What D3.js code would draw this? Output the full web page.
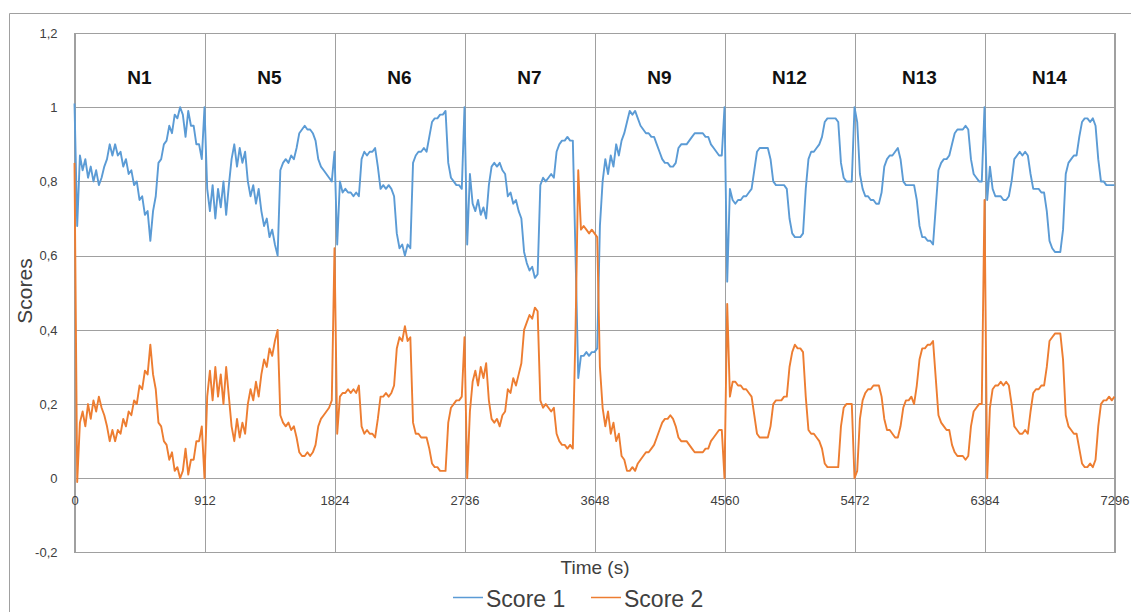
<!DOCTYPE html>
<html>
<head>
<meta charset="utf-8">
<script src="https://cdn.jsdelivr.net/npm/d3@7/dist/d3.min.js"></script>
<style>
  html, body { margin: 0; padding: 0; background: #ffffff; }
  svg { display: block; font-family: "Liberation Sans", Arial, sans-serif; }
</style>
</head>
<body>
<svg id="chart" width="1131" height="612"></svg>
<script>
// Recording sections, each 912 s long, sampled every 19 s
const sections = ["N1", "N5", "N6", "N7", "N9", "N12", "N13", "N14"];
const sectionLength = 912;
const sampleStep = 19;
const timeTicks = [0, 912, 1824, 2736, 3648, 4560, 5472, 6384, 7296];
const scoreTicks = [-0.2, 0, 0.2, 0.4, 0.6, 0.8, 1, 1.2];
const scoreGrid = [0, 0.2, 0.4, 0.6, 0.8, 1];

// Score 1 per section
const score1_N1 = [1.01,0.68,0.87,0.83,0.86,0.81,0.84,0.80,0.83,0.79,0.81,0.84,0.86,0.90,0.87,0.90,0.87,0.88,0.84,0.86,0.82,0.83,0.79,0.80,0.75,0.76,0.71,0.72,0.64,0.72,0.76,0.85,0.86,0.90,0.91,0.95,0.93,0.98,0.97,1.00,0.98,0.92,0.99,0.95,0.95,0.90,0.90,0.86];
const score1_N5 = [1.00,0.78,0.72,0.79,0.70,0.78,0.73,0.80,0.71,0.79,0.86,0.90,0.84,0.89,0.85,0.88,0.80,0.76,0.79,0.74,0.78,0.72,0.68,0.70,0.65,0.67,0.63,0.60,0.83,0.85,0.86,0.85,0.87,0.86,0.89,0.93,0.94,0.95,0.94,0.94,0.93,0.91,0.86,0.84,0.83,0.82,0.81,0.80];
const score1_N6 = [0.88,0.63,0.80,0.77,0.78,0.77,0.77,0.76,0.77,0.76,0.86,0.88,0.87,0.88,0.88,0.89,0.84,0.78,0.79,0.78,0.79,0.78,0.76,0.66,0.62,0.63,0.60,0.63,0.62,0.85,0.87,0.88,0.88,0.89,0.88,0.92,0.96,0.97,0.97,0.98,0.98,0.99,0.85,0.81,0.80,0.79,0.79,0.78];
const score1_N7 = [1.00,0.63,0.82,0.74,0.72,0.75,0.71,0.73,0.70,0.79,0.84,0.85,0.84,0.85,0.83,0.82,0.76,0.77,0.74,0.75,0.72,0.70,0.61,0.58,0.56,0.57,0.54,0.55,0.79,0.81,0.80,0.81,0.82,0.81,0.88,0.90,0.91,0.91,0.92,0.91,0.91,0.60,0.27,0.33,0.33,0.34,0.33,0.34];
const score1_N9 = [0.34,0.35,0.68,0.80,0.86,0.82,0.87,0.84,0.90,0.87,0.91,0.93,0.96,0.99,0.98,0.99,0.97,0.95,0.94,0.93,0.93,0.92,0.92,0.90,0.88,0.86,0.85,0.85,0.84,0.84,0.85,0.89,0.90,0.90,0.90,0.91,0.92,0.93,0.93,0.93,0.93,0.92,0.92,0.90,0.89,0.88,0.87,0.87];
const score1_N12 = [1.00,0.53,0.78,0.75,0.74,0.75,0.75,0.76,0.76,0.77,0.78,0.83,0.88,0.89,0.89,0.89,0.89,0.86,0.80,0.79,0.79,0.79,0.79,0.78,0.70,0.66,0.65,0.65,0.65,0.66,0.78,0.86,0.88,0.88,0.89,0.90,0.92,0.96,0.97,0.97,0.97,0.97,0.96,0.85,0.81,0.80,0.80,0.80];
const score1_N13 = [1.00,0.96,0.82,0.78,0.76,0.76,0.75,0.75,0.74,0.74,0.77,0.84,0.86,0.87,0.87,0.88,0.89,0.86,0.80,0.79,0.79,0.79,0.79,0.75,0.68,0.65,0.65,0.64,0.64,0.63,0.73,0.83,0.85,0.86,0.86,0.87,0.90,0.93,0.94,0.94,0.94,0.95,0.94,0.86,0.82,0.81,0.80,0.80];
const score1_N14 = [1.00,0.75,0.84,0.78,0.76,0.76,0.76,0.75,0.75,0.76,0.80,0.86,0.87,0.88,0.87,0.88,0.87,0.82,0.78,0.78,0.78,0.77,0.77,0.72,0.64,0.62,0.61,0.61,0.61,0.67,0.82,0.85,0.86,0.87,0.87,0.92,0.96,0.97,0.97,0.96,0.97,0.95,0.86,0.80,0.80,0.79,0.79,0.79];
const score1_end = 0.79;

// Score 2 per section
const score2_N1 = [0.85,-0.01,0.15,0.18,0.14,0.20,0.16,0.21,0.18,0.22,0.19,0.17,0.14,0.10,0.13,0.10,0.13,0.12,0.16,0.14,0.18,0.17,0.21,0.20,0.25,0.24,0.29,0.28,0.36,0.28,0.24,0.15,0.14,0.10,0.09,0.05,0.07,0.02,0.03,0.00,0.02,0.08,0.01,0.05,0.05,0.10,0.10,0.14];
const score2_N5 = [0.00,0.22,0.29,0.21,0.30,0.22,0.28,0.20,0.30,0.22,0.14,0.10,0.16,0.11,0.15,0.12,0.20,0.24,0.21,0.26,0.22,0.28,0.32,0.30,0.35,0.33,0.37,0.40,0.17,0.15,0.14,0.15,0.13,0.14,0.11,0.07,0.06,0.06,0.07,0.06,0.07,0.09,0.14,0.16,0.17,0.18,0.19,0.21];
const score2_N6 = [0.62,0.12,0.22,0.23,0.23,0.24,0.23,0.24,0.23,0.25,0.14,0.12,0.13,0.12,0.12,0.11,0.16,0.22,0.22,0.23,0.22,0.23,0.25,0.35,0.38,0.37,0.41,0.37,0.38,0.15,0.12,0.12,0.11,0.11,0.11,0.08,0.04,0.03,0.03,0.02,0.02,0.02,0.15,0.19,0.20,0.21,0.21,0.22];
const score2_N7 = [0.38,0.00,0.18,0.26,0.29,0.25,0.30,0.27,0.31,0.21,0.16,0.15,0.16,0.14,0.17,0.18,0.24,0.23,0.27,0.25,0.28,0.31,0.40,0.42,0.44,0.43,0.46,0.45,0.21,0.19,0.20,0.19,0.18,0.19,0.12,0.10,0.09,0.09,0.08,0.09,0.08,0.40,0.83,0.67,0.68,0.67,0.66,0.67];
const score2_N9 = [0.66,0.65,0.30,0.19,0.14,0.18,0.12,0.15,0.10,0.12,0.06,0.05,0.02,0.02,0.03,0.02,0.04,0.05,0.06,0.07,0.07,0.08,0.09,0.11,0.13,0.15,0.16,0.16,0.17,0.16,0.14,0.11,0.10,0.10,0.10,0.09,0.08,0.07,0.07,0.07,0.07,0.08,0.08,0.10,0.11,0.12,0.13,0.13];
const score2_N12 = [0.00,0.47,0.22,0.26,0.26,0.25,0.25,0.24,0.24,0.23,0.22,0.17,0.12,0.11,0.11,0.11,0.11,0.14,0.20,0.21,0.21,0.21,0.22,0.22,0.30,0.34,0.36,0.35,0.35,0.34,0.22,0.13,0.12,0.12,0.11,0.10,0.08,0.04,0.03,0.03,0.03,0.03,0.03,0.14,0.19,0.20,0.20,0.20];
const score2_N13 = [0.00,0.02,0.16,0.21,0.23,0.24,0.24,0.25,0.25,0.25,0.22,0.16,0.13,0.13,0.12,0.11,0.11,0.14,0.19,0.21,0.21,0.22,0.20,0.25,0.32,0.35,0.35,0.36,0.36,0.37,0.27,0.17,0.15,0.14,0.13,0.13,0.09,0.07,0.06,0.06,0.06,0.05,0.06,0.14,0.18,0.19,0.20,0.20];
const score2_N14 = [0.75,0.00,0.19,0.24,0.25,0.25,0.26,0.25,0.26,0.25,0.20,0.14,0.13,0.12,0.12,0.13,0.12,0.18,0.23,0.24,0.24,0.25,0.25,0.30,0.37,0.38,0.39,0.39,0.39,0.32,0.17,0.14,0.13,0.12,0.12,0.08,0.04,0.03,0.03,0.04,0.03,0.05,0.14,0.20,0.21,0.21,0.22,0.21];
const score2_end = 0.22;

const score1Sections = [score1_N1, score1_N5, score1_N6, score1_N7, score1_N9, score1_N12, score1_N13, score1_N14];
const score2Sections = [score2_N1, score2_N5, score2_N6, score2_N7, score2_N9, score2_N12, score2_N13, score2_N14];

const seriesNames = ["Score 1", "Score 2"];
const seriesColors = ["#5b9bd5", "#ed7d31"];

// Flatten the section arrays into one time series
function toSeries(sectionArrays, endValue) {
  const pts = [];
  sectionArrays.forEach((vals, k) => {
    vals.forEach((v, i) => pts.push({ t: k * sectionLength + i * sampleStep, v: v }));
  });
  pts.push({ t: sections.length * sectionLength, v: endValue });
  return pts;
}
const series = [toSeries(score1Sections, score1_end), toSeries(score2Sections, score2_end)];

const svg = d3.select("#chart");
const plotLeft = 74.5, plotRight = 1114.5, plotTop = 33, plotBottom = 552.5;
const gridColor = "#a0a0a0";
const textColor = "#404040";

const x = d3.scaleLinear().domain([0, 7296]).range([plotLeft, plotRight]);
const y = d3.scaleLinear().domain([-0.2, 1.2]).range([plotBottom, plotTop]);

const locale = d3.formatLocale({ decimal: ",", thousands: ".", grouping: [3], currency: ["", ""], minus: "-" });
const fmt = locale.format("~g");

// Outer chart frame (top and left edges)
svg.append("line").attr("x1", 9.5).attr("x2", 1131).attr("y1", 13.5).attr("y2", 13.5)
  .attr("stroke", gridColor).attr("stroke-width", 1);
svg.append("line").attr("x1", 9.5).attr("x2", 9.5).attr("y1", 13.5).attr("y2", 612)
  .attr("stroke", gridColor).attr("stroke-width", 1);

// Horizontal gridlines
svg.append("g")
  .attr("transform", `translate(${plotLeft},0)`)
  .call(d3.axisLeft(y).tickValues(scoreGrid).tickSize(-(plotRight - plotLeft)).tickFormat(""))
  .call(g => g.select(".domain").remove())
  .call(g => g.selectAll("line").attr("stroke", gridColor).attr("shape-rendering", "crispEdges"));

// Vertical gridlines at section boundaries
svg.append("g")
  .attr("transform", `translate(0,${plotBottom})`)
  .call(d3.axisBottom(x).tickValues(timeTicks).tickSize(-(plotBottom - plotTop)).tickFormat(""))
  .call(g => g.select(".domain").remove())
  .call(g => g.selectAll("line").attr("stroke", gridColor).attr("shape-rendering", "crispEdges"));

// Plot frame
svg.append("rect")
  .attr("x", plotLeft).attr("y", plotTop).attr("width", plotRight - plotLeft).attr("height", plotBottom - plotTop)
  .attr("fill", "none").attr("stroke", gridColor).attr("shape-rendering", "crispEdges");

// Section names
svg.append("g").selectAll("text")
  .data(sections)
  .join("text")
  .attr("x", (d, k) => x(k * sectionLength + sectionLength / 2))
  .attr("y", 83.5)
  .attr("text-anchor", "middle")
  .attr("font-weight", "bold")
  .attr("font-size", 19)
  .attr("fill", "#111")
  .text(d => d);

// Y tick labels
svg.append("g")
  .attr("transform", `translate(${plotLeft},0)`)
  .call(d3.axisLeft(y).tickValues(scoreTicks).tickSize(0).tickPadding(17).tickFormat(fmt))
  .call(g => g.select(".domain").remove())
  .call(g => g.selectAll("text").attr("font-size", 13).attr("fill", textColor)
    .attr("font-family", "\"Liberation Sans\", Arial, sans-serif"));

// X tick labels placed under the zero line
svg.append("g")
  .attr("transform", `translate(0,${y(0)})`)
  .call(d3.axisBottom(x).tickValues(timeTicks).tickSize(0).tickPadding(17.5).tickFormat(d3.format("d")))
  .call(g => g.select(".domain").remove())
  .call(g => g.selectAll("text").attr("font-size", 13).attr("fill", textColor)
    .attr("font-family", "\"Liberation Sans\", Arial, sans-serif"));

// Score lines
const line = d3.line().x(d => x(d.t)).y(d => y(d.v));
svg.append("g").selectAll("path")
  .data(series)
  .join("path")
  .attr("d", line)
  .attr("fill", "none")
  .attr("stroke", (d, i) => seriesColors[i])
  .attr("stroke-width", 1.9)
  .attr("stroke-linejoin", "round");

// Axis titles
svg.append("text")
  .attr("x", 595).attr("y", 574)
  .attr("text-anchor", "middle")
  .attr("font-size", 19)
  .attr("fill", textColor)
  .text("Time (s)");

svg.append("text")
  .attr("transform", "translate(32,291) rotate(-90)")
  .attr("text-anchor", "middle")
  .attr("font-size", 21)
  .attr("fill", textColor)
  .text("Scores");

// Legend
const legendX = [453, 591];
const legend = svg.append("g").selectAll("g")
  .data(seriesNames)
  .join("g")
  .attr("transform", (d, i) => `translate(${legendX[i]},597.5)`);
legend.append("line")
  .attr("x1", 0).attr("x2", 30).attr("y1", 0).attr("y2", 0)
  .attr("stroke", (d, i) => seriesColors[i]).attr("stroke-width", 1.5);
legend.append("text")
  .attr("x", 33).attr("y", 9.5)
  .attr("font-size", 23)
  .attr("fill", textColor)
  .text(d => d);
</script>
</body>
</html>
